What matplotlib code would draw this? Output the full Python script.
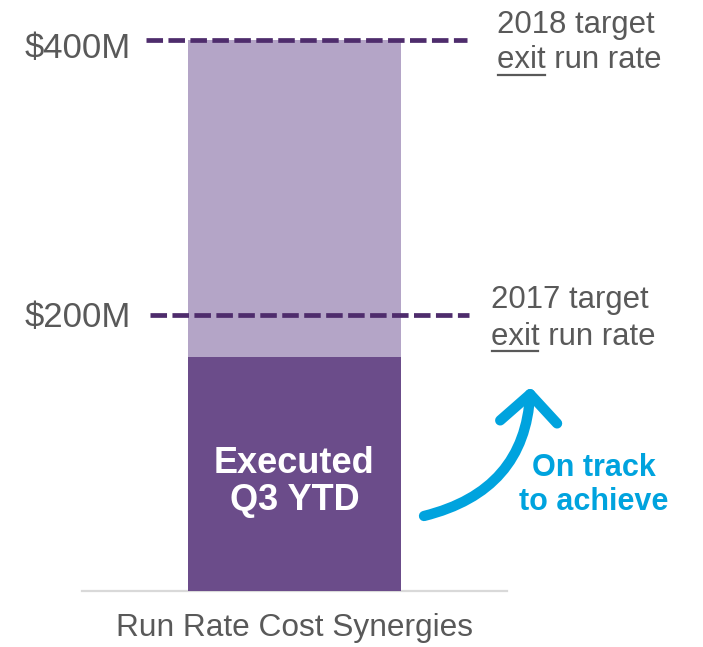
import matplotlib
matplotlib.use("Agg")
import matplotlib.pyplot as plt
from matplotlib.patches import FancyArrowPatch, ArrowStyle
from matplotlib.lines import Line2D
from matplotlib.transforms import IdentityTransform, blended_transform_factory

plt.rcParams['font.family'] = ['Liberation Sans', 'DejaVu Sans']

# ---------------- data ----------------
categories = ["Run Rate Cost Synergies"]
executed = [170]          # $M executed Q3 YTD
remaining = [230]         # $M remaining up to 2018 target
target_values = [400, 200]
target_left_labels = ["$400M", "$200M"]
target_right_line1 = ["2018 target", "2017 target"]
target_right_line2 = ["exit run rate", "exit run rate"]
bar_text = ["Executed", "Q3 YTD"]
note_text = ["On track", "to achieve"]

# ---------------- style ----------------
DARK = "#6B4C8A"
LIGHT = "#B4A5C7"
DASH = "#4E2C6C"
GRAY = "#595959"
BLUE = "#00A3DE"
BASE = "#D9D9D9"

W, H = 703, 647
fig = plt.figure(figsize=(W / 100, H / 100), dpi=100)
ax = fig.add_axes([82 / W, 56 / H, 425 / W, 591 / H])
ax.set_xlim(-0.5, 0.5)
ax.set_ylim(0, 591 / 551 * 400)
ax.patch.set_alpha(0)

x = list(range(len(categories)))
ax.bar(x, executed, width=0.502, color=DARK, zorder=2)
ax.bar(x, remaining, bottom=executed, width=0.502, color=LIGHT, zorder=1)

for s in ["top", "left", "right"]:
    ax.spines[s].set_visible(False)
ax.spines["bottom"].set_color(BASE)
ax.spines["bottom"].set_linewidth(1.6)
ax.spines["bottom"].set_zorder(0)
ax.set_yticks([])
ax.set_xticks(x)
ax.set_xticklabels(categories, fontsize=22.8, color=GRAY)
ax.tick_params(axis="x", length=0, pad=16)

# target lines + labels (layout per target)
line_extent = [(0.1506, 0.9059), (0.160, 0.9106)]
left_lab_x = [0.1153, 0.1153]
left_lab_dy = [-13.0, -8.0]
right_lab_x = [0.9765, 0.962]
right_dy1 = [5.0, 5.5]
right_dy2 = [-20.3, -21.0]
RFS = 22.4

bt = blended_transform_factory(ax.transAxes, ax.transData)
fig.canvas.draw()
renderer = fig.canvas.get_renderer()

for i, v in enumerate(target_values):
    ax.axhline(v, xmin=line_extent[i][0], xmax=line_extent[i][1], color=DASH,
               lw=3.4, linestyle=(0, (3.5, 1.15)), zorder=3,
               dash_capstyle="butt")
    ax.annotate(target_left_labels[i], xy=(left_lab_x[i], v), xycoords=bt,
                xytext=(0, left_lab_dy[i]), textcoords="offset points",
                ha="right", va="baseline", fontsize=25, color=GRAY)
    ax.annotate(target_right_line1[i], xy=(right_lab_x[i], v), xycoords=bt,
                xytext=(0, right_dy1[i]), textcoords="offset points",
                ha="left", va="baseline", fontsize=RFS, color=GRAY)
    ax.annotate(target_right_line2[i], xy=(right_lab_x[i], v), xycoords=bt,
                xytext=(0, right_dy2[i]), textcoords="offset points",
                ha="left", va="baseline", fontsize=RFS, color=GRAY)
    # underline of "exit"
    word = target_right_line2[i].split()[0]
    tmp = fig.text(0, 0, word, fontsize=RFS)
    wpx = tmp.get_window_extent(renderer).width
    tmp.remove()
    x0d, y0d = bt.transform((right_lab_x[i], v))
    yb = y0d + right_dy2[i] / 0.72 - 6.5
    fig.add_artist(Line2D([x0d + 1, x0d + wpx - 1], [yb, yb], transform=IdentityTransform(),
                          color=GRAY, lw=1.6))

# text inside executed bar
exec_y = [(591 - 473) / 1.3775, (591 - 510) / 1.3775]
for t, yy in zip(bar_text, exec_y):
    ax.text(0, yy, t, ha="center", va="baseline", fontsize=26,
            fontweight="bold", color="white", zorder=4)

# "On track" note
note_y = [(591 - 476) / 1.3775, (591 - 510) / 1.3775]
for t, yy in zip(note_text, note_y):
    ax.text(0.705, yy, t, ha="center", va="baseline", fontsize=22,
            fontweight="bold", color=BLUE, zorder=4)

# curved arrow
start = ((424 - 294.5) / 425, (591 - 516) / 1.3775)
end = ((530.5 - 294.5) / 425, (591 - 387) / 1.3775)
arrow = FancyArrowPatch(start, end, transform=ax.transData,
                        connectionstyle="arc3,rad=0.37",
                        arrowstyle=ArrowStyle("->", head_length=20, head_width=20.5),
                        mutation_scale=1, lw=7.4, color=BLUE,
                        capstyle="round", joinstyle="round",
                        shrinkA=0, shrinkB=0, zorder=5, clip_on=False)
ax.add_patch(arrow)

fig.savefig("out.png", dpi=100)
